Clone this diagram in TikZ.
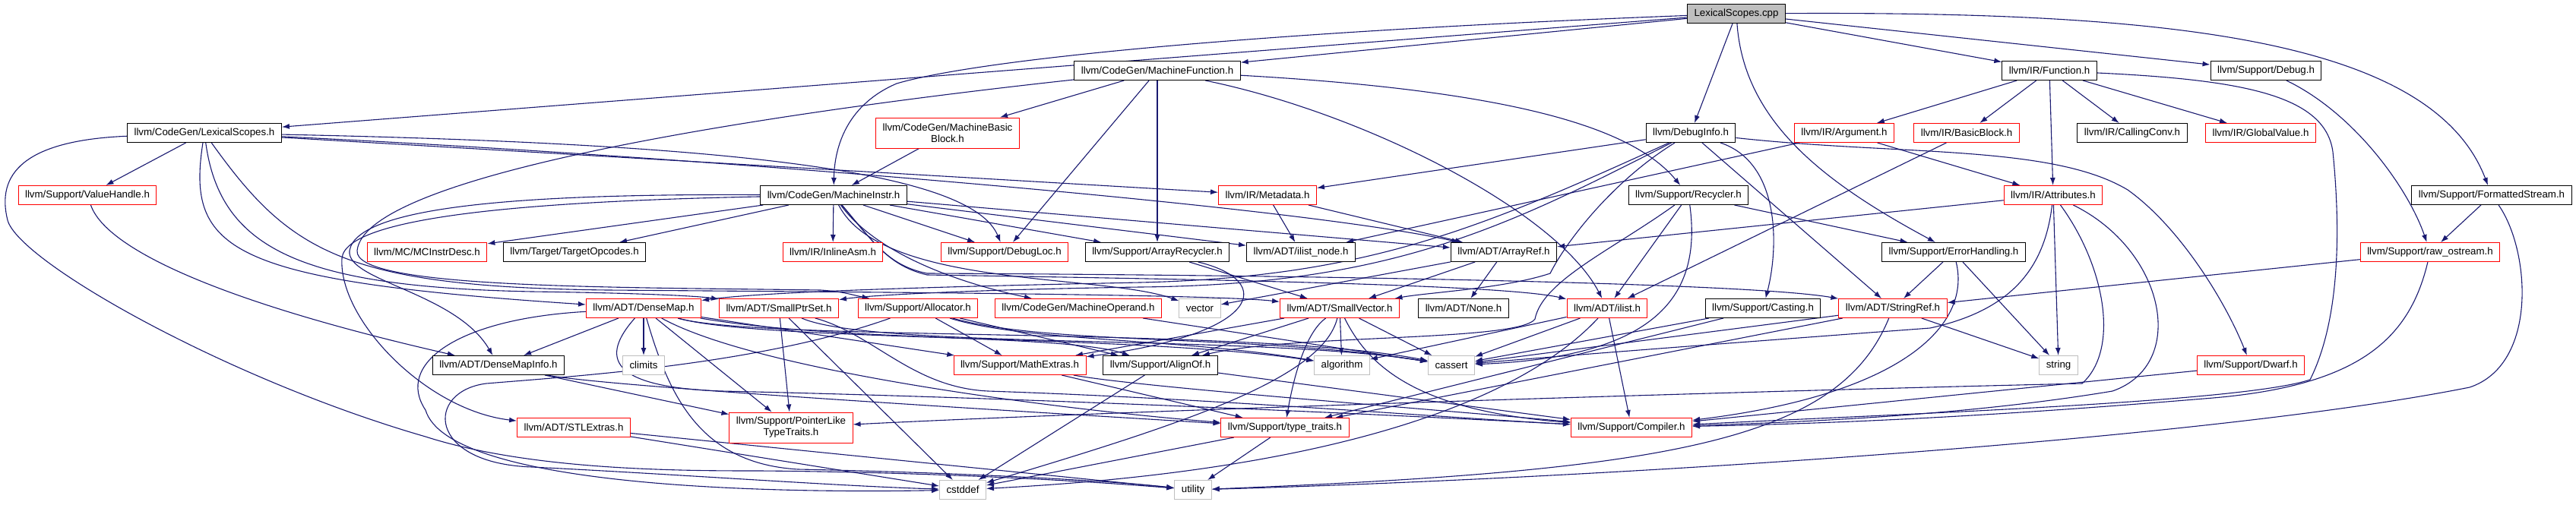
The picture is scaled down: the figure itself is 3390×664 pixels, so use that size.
\documentclass[tikz,border=0pt]{standalone}
\usepackage{fontspec}
\setmainfont{Liberation Sans}
\usepackage{tikz}
\usetikzlibrary{
  arrows.meta,
  backgrounds
}
\definecolor{edgeblue}{RGB}{25,25,112}
\definecolor{sysgray}{RGB}{191,191,191}
\tikzset{>={Latex[length=10pt,width=7pt]}}
\tikzset{
  file/.style={draw=black, fill=white, line width=1pt, inner xsep=9pt, inner ysep=2pt,
    minimum height=25pt, font=\fontsize{13.3}{15}\selectfont},
  trunc/.style={file, draw=red},
  sys/.style={file, draw=sysgray},
  root/.style={file, fill=sysgray},
  twoline/.style={align=center, minimum height=40pt},
  edge/.style={->, draw=edgeblue, line width=1.1pt}
}

\begin{document}
\begin{tikzpicture}[x=1pt, y=-1pt]
  \useasboundingbox (0,0) rectangle (3390,664);
  % files, row by row
  \node[root] (cpp) at (2285,18) {LexicalScopes.cpp};
  \node[file] (mfun) at (1523,93) {llvm/CodeGen/MachineFunction.h};
  \node[file] (func) at (2697,93) {llvm/IR/Function.h};
  \node[file] (dbg) at (2982,93) {llvm/Support/Debug.h};
  \node[file] (lsh) at (269,175) {llvm/CodeGen/LexicalScopes.h};
  \node[trunc, twoline] (mbb) at (1247,175) {llvm/CodeGen/MachineBasic\\Block.h};
  \node[file] (dinfo) at (2225,175) {llvm/DebugInfo.h};
  \node[trunc] (arg) at (2427,175) {llvm/IR/Argument.h};
  \node[trunc] (bb) at (2588,175) {llvm/IR/BasicBlock.h};
  \node[file] (cconv) at (2806,175) {llvm/IR/CallingConv.h};
  \node[trunc] (gval) at (2975,175) {llvm/IR/GlobalValue.h};
  \node[trunc] (vh) at (115,257) {llvm/Support/ValueHandle.h};
  \node[file] (minstr) at (1097,257) {llvm/CodeGen/MachineInstr.h};
  \node[trunc] (meta) at (1668,257) {llvm/IR/Metadata.h};
  \node[file] (recyc) at (2222,257) {llvm/Support/Recycler.h};
  \node[trunc] (attr) at (2702,257) {llvm/IR/Attributes.h};
  \node[file] (fstream) at (3279,257) {llvm/Support/FormattedStream.h};
  \node[trunc] (mcid) at (562,332) {llvm/MC/MCInstrDesc.h};
  \node[file] (topc) at (756,332) {llvm/Target/TargetOpcodes.h};
  \node[trunc] (iasm) at (1096,332) {llvm/IR/InlineAsm.h};
  \node[trunc] (dloc) at (1322,332) {llvm/Support/DebugLoc.h};
  \node[file] (arec) at (1523,332) {llvm/Support/ArrayRecycler.h};
  \node[file] (inode) at (1712,332) {llvm/ADT/ilist\_node.h};
  \node[file] (aref) at (1979,332) {llvm/ADT/ArrayRef.h};
  \node[file] (errh) at (2571,332) {llvm/Support/ErrorHandling.h};
  \node[trunc] (rawos) at (3198,332) {llvm/Support/raw\_ostream.h};
  \node[trunc] (dmap) at (847,406) {llvm/ADT/DenseMap.h};
  \node[trunc] (sps) at (1025,406) {llvm/ADT/SmallPtrSet.h};
  \node[trunc] (alloc) at (1208,406) {llvm/Support/Allocator.h};
  \node[trunc] (mop) at (1419,406) {llvm/CodeGen/MachineOperand.h};
  \node[sys] (vec) at (1579,406) {vector};
  \node[trunc] (svec) at (1763,406) {llvm/ADT/SmallVector.h};
  \node[file] (none) at (1926,406) {llvm/ADT/None.h};
  \node[trunc] (ilist) at (2115,406) {llvm/ADT/ilist.h};
  \node[file] (cast) at (2320,406) {llvm/Support/Casting.h};
  \node[trunc] (sref) at (2491,406) {llvm/ADT/StringRef.h};
  \node[file] (dmi) at (656,481) {llvm/ADT/DenseMapInfo.h};
  \node[sys] (climits) at (847,481) {climits};
  \node[trunc] (mathx) at (1342,481) {llvm/Support/MathExtras.h};
  \node[file] (align) at (1527,481) {llvm/Support/AlignOf.h};
  \node[sys] (algo) at (1766,481) {algorithm};
  \node[sys] (cassert) at (1910,481) {cassert};
  \node[sys] (str) at (2709,481) {string};
  \node[trunc] (dwarf) at (2962,481) {llvm/Support/Dwarf.h};
  \node[trunc] (stl) at (755,563) {llvm/ADT/STLExtras.h};
  \node[trunc, twoline] (pltt) at (1041,563) {llvm/Support/PointerLike\\TypeTraits.h};
  \node[trunc] (ttr) at (1691,563) {llvm/Support/type\_traits.h};
  \node[trunc] (comp) at (2147,563) {llvm/Support/Compiler.h};
  \node[sys] (cstddef) at (1267,645) {cstddef};
  \node[sys] (util) at (1570,645) {utility};

  \begin{scope}[on background layer]
    % straight includes
    \foreach \a/\b in {cpp/lsh, cpp/mfun, cpp/dinfo, cpp/func, cpp/dbg,
        lsh/vh, lsh/meta, mfun/mbb, mfun/dloc, mfun/arec, mbb/minstr,
        minstr/mcid, minstr/topc, minstr/iasm, minstr/dloc, minstr/arec, minstr/inode, minstr/aref,
        dinfo/meta, dinfo/sref, arg/attr, arg/inode, bb/ilist,
        func/arg, func/bb, func/attr, func/cconv, func/gval, fstream/rawos,
        meta/aref, meta/inode, recyc/ilist, recyc/errh, attr/aref, attr/str, rawos/sref,
        arec/svec, aref/vec, aref/svec, aref/none, errh/sref, errh/str,
        dmap/dmi, dmap/climits, dmap/pltt, dmap/mathx, sps/pltt, sps/cstddef,
        alloc/align, alloc/mathx, mop/cassert,
        svec/align, svec/mathx, svec/algo, svec/cassert,
        ilist/comp, ilist/algo, ilist/cassert, cast/ttr, cast/cassert,
        sref/ttr, sref/cassert, sref/str, dmi/pltt, mathx/ttr,
        align/comp, align/cstddef, ttr/cstddef, ttr/util, stl/cstddef, stl/util, dwarf/comp}
      \draw[edge] (\a) -- (\b);

    % routed includes
    \draw[edge] (cpp) .. controls (1700,40) and (1300,75) .. (1180,110)
      .. controls (1110,140) and (1098,200) .. (minstr);
    \draw[edge] (cpp) .. controls (2295,160) and (2400,240) .. (errh);
    \draw[edge] (cpp) .. controls (2850,15) and (3200,50) .. (fstream);
    \draw[edge] (lsh) .. controls (245,330) and (300,370) .. (dmap);
    \draw[edge] (lsh) .. controls (290,330) and (400,378) .. (700,384)
      .. controls (850,386) and (920,390) .. (sps);
    \draw[edge] (lsh) .. controls (380,330) and (450,378) .. (800,382)
      .. controls (1200,385) and (1600,388) .. (svec);
    \draw[edge] (lsh) .. controls (1000,190) and (1280,230) .. (dloc);
    \draw[edge] (lsh) .. controls (900,205) and (1700,270) .. (aref);
    \draw[edge] (lsh) .. controls (30,185) and (-5,230) .. (10,290)
      .. controls (25,345) and (300,500) .. (560,575)
      .. controls (700,620) and (900,620) .. (1000,620)
      .. controls (1250,622) and (1450,635) .. (util);
    \draw[edge] (mfun) .. controls (2000,120) and (2150,170) .. (recyc);
    \draw[edge] (mfun) .. controls (1800,150) and (2050,280) .. (ilist);
    \draw[edge] (mfun) .. controls (1000,150) and (480,230) .. (470,330)
      .. controls (465,380) and (800,378) .. (1080,382)
      .. controls (1110,384) and (1120,388) .. (alloc);
    \draw[edge] (minstr) .. controls (1150,330) and (1250,370) .. (mop);
    \draw[edge] (minstr) .. controls (1160,380) and (1450,360) .. (vec);
    \draw[edge] (minstr) .. controls (1150,320) and (1170,350) .. (1220,360)
      .. controls (1700,362) and (2300,372) .. (sref);
    \draw[edge] (minstr) .. controls (1150,320) and (1170,350) .. (1220,362)
      .. controls (1600,368) and (1980,375) .. (ilist);
    \draw[edge] (minstr) .. controls (700,255) and (470,270) .. (460,330)
      .. controls (455,370) and (600,385) .. (dmi);
    \draw[edge] (minstr) .. controls (700,265) and (455,285) .. (450,340)
      .. controls (445,420) and (560,540) .. (stl);
    \draw[edge] (dinfo) .. controls (1950,300) and (1800,365) .. (1500,372)
      .. controls (1200,378) and (1000,385) .. (dmap);
    \draw[edge] (dinfo) .. controls (1980,300) and (1830,375) .. (1500,378)
      .. controls (1300,381) and (1150,388) .. (sps);
    \draw[edge] (dinfo) .. controls (2120,240) and (2060,320) .. (2040,360)
      .. controls (1980,380) and (1880,385) .. (svec);
    \draw[edge] (dinfo) .. controls (2345,215) and (2340,330) .. (cast);
    \draw[edge] (dinfo) .. controls (2500,205) and (2700,190) .. (2800,250)
      .. controls (2870,300) and (2930,400) .. (dwarf);
    \draw[edge] (vh) .. controls (140,330) and (300,400) .. (dmi);
    \draw[edge] (recyc) .. controls (2120,330) and (2030,370) .. (2020,420)
      .. controls (2000,450) and (1700,440) .. (align);
    \draw[edge] (recyc) .. controls (2240,390) and (2180,470) .. (cassert);
    \draw[edge] (attr) .. controls (2690,360) and (2640,410) .. (2540,432)
      .. controls (2300,450) and (2100,465) .. (cassert);
    \draw[edge] (attr) .. controls (2770,350) and (2790,460) .. (2740,505)
      .. controls (2300,515) and (1500,540) .. (pltt);
    \draw[edge] (attr) .. controls (2850,330) and (2880,480) .. (2780,515)
      .. controls (2600,545) and (2400,555) .. (comp);
    \draw[edge] (func) .. controls (2950,105) and (3060,125) .. (3070,200)
      .. controls (3080,300) and (3080,420) .. (3040,500)
      .. controls (2950,530) and (2500,545) .. (comp);
    \draw[edge] (dbg) .. controls (3100,150) and (3170,250) .. (rawos);
    \draw[edge] (fstream) .. controls (3330,330) and (3340,480) .. (3250,510)
      .. controls (2900,580) and (2100,630) .. (util);
    \draw[edge] (rawos) .. controls (3170,450) and (3100,510) .. (2900,525)
      .. controls (2600,550) and (2400,558) .. (comp);
    \draw[edge] (arec) .. controls (1680,370) and (1660,440) .. (mathx);
    \draw[edge] (errh) .. controls (2595,430) and (2500,520) .. (comp);
    \draw[edge] (dmap) .. controls (1100,450) and (1400,440) .. (align);
    \draw[edge] (dmap) .. controls (1000,450) and (1500,440) .. (algo);
    \draw[edge] (dmap) .. controls (1000,450) and (1650,430) .. (cassert);
    \draw[edge] (dmap) .. controls (1000,490) and (1400,540) .. (ttr);
    \draw[edge] (dmap) .. controls (790,470) and (800,510) .. (950,515)
      .. controls (1400,525) and (1900,550) .. (comp);
    \draw[edge] (dmap) .. controls (600,420) and (520,480) .. (560,540)
      .. controls (590,640) and (1000,650) .. (cstddef);
    \draw[edge] (dmap) .. controls (880,520) and (920,610) .. (1050,618)
      .. controls (1250,622) and (1450,632) .. (util);
    \draw[edge] (sps) .. controls (1150,440) and (1200,510) .. (1300,515)
      .. controls (1600,525) and (1900,550) .. (comp);
    \draw[edge] (sps) .. controls (1150,460) and (1650,440) .. (cassert);
    \draw[edge] (alloc) .. controls (1350,450) and (1550,445) .. (algo);
    \draw[edge] (alloc) .. controls (1380,455) and (1650,440) .. (cassert);
    \draw[edge] (alloc) .. controls (1000,480) and (760,495) .. (640,505)
      .. controls (560,515) and (560,610) .. (700,615)
      .. controls (900,625) and (1100,640) .. (cstddef);
    \draw[edge] (svec) .. controls (1800,480) and (1860,540) .. (comp);
    \draw[edge] (svec) .. controls (1740,500) and (1550,560) .. (cstddef);
    \draw[edge] (svec) .. controls (1715,440) and (1700,510) .. (ttr);
    \draw[edge] (ilist) .. controls (2000,530) and (1750,620) .. (cstddef);
    \draw[edge] (sref) .. controls (2420,580) and (2200,620) .. (util);
    \draw[edge] (mathx) .. controls (1500,510) and (1900,540) .. (comp);
    \draw[edge] (dmi) .. controls (800,510) and (1400,545) .. (ttr);
  \end{scope}
\end{tikzpicture}
\end{document}
